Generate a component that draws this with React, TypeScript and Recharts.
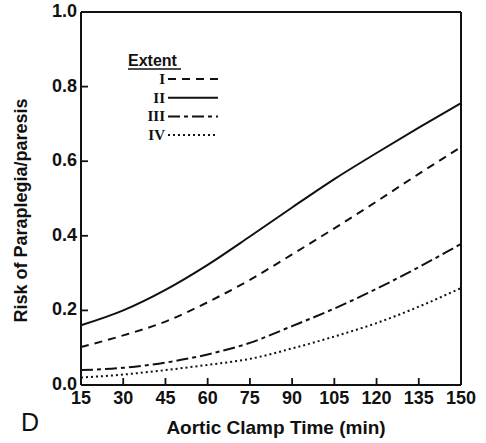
import { LineChart, Line, XAxis, YAxis, ReferenceLine } from "recharts";

// Aortic clamp time (min)
const clampTime = [15, 30, 45, 60, 75, 90, 105, 120, 135, 150];

// risk of paraplegia/paresis by extent
const extentI = [0.102, 0.133, 0.17, 0.222, 0.282, 0.35, 0.42, 0.492, 0.566, 0.638];
const extentII = [0.16, 0.2, 0.255, 0.322, 0.398, 0.476, 0.552, 0.622, 0.69, 0.756];
const extentIII = [0.04, 0.046, 0.06, 0.082, 0.113, 0.158, 0.205, 0.258, 0.316, 0.378];
const extentIV = [0.02, 0.028, 0.04, 0.054, 0.07, 0.098, 0.13, 0.166, 0.21, 0.26];

const xTicks = [15, 30, 45, 60, 75, 90, 105, 120, 135, 150];
const yTicks = [0, 0.2, 0.4, 0.6, 0.8, 1.0];

const legendItems = [
  { name: "I", dash: "8 6" },
  { name: "II", dash: "" },
  { name: "III", dash: "12 4 4 4" },
  { name: "IV", dash: "2 3" },
];

const data = clampTime.map((t, i) => ({
  t,
  I: extentI[i],
  II: extentII[i],
  III: extentIII[i],
  IV: extentIV[i],
}));

const INK = "#111";
const SANS = "'Liberation Sans', Arial, Helvetica, sans-serif";
const SERIF = "'Liberation Serif', 'Times New Roman', serif";

// inward ticks: draw the tick mark ourselves next to the label
const XTick = (props: any) => {
  const { x, y, payload } = props;
  return (
    <g>
      <line x1={x} x2={x} y1={y - 4} y2={y - 11} stroke={INK} strokeWidth={1.8} />
      <text x={x} y={y + 15} textAnchor="middle" fontFamily={SANS} fontWeight="bold" fontSize={18} fill={INK}>
        {payload.value}
      </text>
    </g>
  );
};

const YTick = (props: any) => {
  const { x, y, payload } = props;
  return (
    <g>
      <line x1={x + 4} x2={x + 11} y1={y} y2={y} stroke={INK} strokeWidth={1.8} />
      <text x={x} y={y + 5} textAnchor="end" fontFamily={SANS} fontWeight="bold" fontSize={18} fill={INK}>
        {Number(payload.value).toFixed(1)}
      </text>
    </g>
  );
};

// y-axis title + legend block
const YAxisExtras = (props: any) => {
  const vb = props.viewBox || { x: 0, y: 12, width: 81, height: 373 };
  const tx = vb.x + 27;
  const ty = vb.y + vb.height / 2 + 12;
  const lx = vb.x + vb.width + 47; // "Extent" left edge
  const ly = vb.y + 48;
  return (
    <g>
      <text
        x={tx}
        y={ty}
        transform={`rotate(-90, ${tx}, ${ty})`}
        textAnchor="middle"
        fontFamily={SANS}
        fontWeight="bold"
        fontSize={18}
        fill={INK}
      >
        Risk of Paraplegia/paresis
      </text>
      <text x={lx} y={ly + 6} fontFamily={SANS} fontWeight="bold" fontSize={16} fill={INK}>
        Extent
      </text>
      <line x1={lx} x2={lx + 53} y1={ly + 9} y2={ly + 9} stroke={INK} strokeWidth={1.5} />
      {legendItems.map((it, i) => {
        const y = ly + 19 + i * 18.7;
        return (
          <g key={it.name}>
            <text
              x={lx + 37}
              y={y + 5}
              textAnchor="end"
              fontFamily={SERIF}
              fontWeight="bold"
              fontSize={15}
              fill={INK}
            >
              {it.name}
            </text>
            <line
              x1={lx + 40}
              x2={lx + 90}
              y1={y}
              y2={y}
              stroke={INK}
              strokeWidth={2}
              strokeDasharray={it.dash || undefined}
            />
          </g>
        );
      })}
    </g>
  );
};

const XAxisExtras = (props: any) => {
  const vb = props.viewBox || { x: 81, y: 385, width: 380, height: 30 };
  return (
    <g>
      <text
        x={vb.x + vb.width / 2 + 5}
        y={vb.y + 49}
        textAnchor="middle"
        fontFamily={SANS}
        fontWeight="bold"
        fontSize={19}
        fill={INK}
      >
        Aortic Clamp Time (min)
      </text>
      <text x={vb.x - 60} y={vb.y + 46} fontFamily={SANS} fontSize={25} fill={INK}>
        D
      </text>
    </g>
  );
};

export default function App() {
  return (
    <div style={{ position: "absolute", left: 0, top: 0, width: 486, height: 443, background: "#fff" }}>
      <LineChart width={486} height={443} data={data} margin={{ top: 12, right: 25, bottom: 28, left: 0 }}>
        <XAxis
          dataKey="t"
          type="number"
          domain={[15, 150]}
          ticks={xTicks}
          interval={0}
          height={30}
          axisLine={{ stroke: INK, strokeWidth: 2 }}
          tickLine={false}
          tickSize={0}
          tickMargin={4}
          tick={<XTick />}
          label={{ content: XAxisExtras }}
        />
        <YAxis
          type="number"
          domain={[0, 1]}
          ticks={yTicks}
          interval={0}
          width={81}
          axisLine={{ stroke: INK, strokeWidth: 2 }}
          tickLine={false}
          tickSize={0}
          tickMargin={4}
          tick={<YTick />}
          label={{ content: YAxisExtras }}
        />
        <ReferenceLine y={1} stroke={INK} strokeWidth={2} />
        <ReferenceLine x={150} stroke={INK} strokeWidth={2} />
        <Line dataKey="I" type="monotone" stroke={INK} strokeWidth={2} strokeDasharray="8 6" dot={false} isAnimationActive={false} />
        <Line dataKey="II" type="monotone" stroke={INK} strokeWidth={2} dot={false} isAnimationActive={false} />
        <Line dataKey="III" type="monotone" stroke={INK} strokeWidth={2} strokeDasharray="12 4 4 4" dot={false} isAnimationActive={false} />
        <Line dataKey="IV" type="monotone" stroke={INK} strokeWidth={2} strokeDasharray="2 3" dot={false} isAnimationActive={false} />
      </LineChart>
    </div>
  );
}
